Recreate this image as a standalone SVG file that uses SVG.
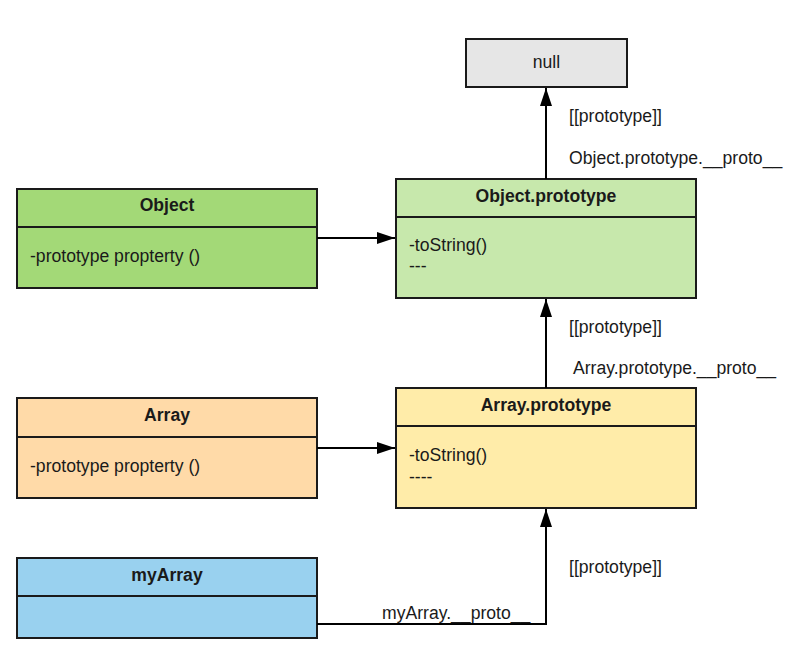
<svg xmlns="http://www.w3.org/2000/svg" width="801" height="661" viewBox="0 0 801 661">
<defs>
<marker id="arr" viewBox="0 0 18 12" refX="18" refY="6" markerWidth="18" markerHeight="12" markerUnits="userSpaceOnUse" orient="auto">
<path d="M0,0 L18,6 L0,12 z" fill="#000"/>
</marker>
<style>
.box{stroke:#1a1a1a;stroke-width:2}
.div{stroke:#1a1a1a;stroke-width:2}
text{font-family:"Liberation Sans",Arial,sans-serif;font-size:17.6px;fill:#1a1a1a}
.t{font-weight:bold;text-anchor:middle}
.c{text-anchor:middle}
.edge{fill:none;stroke:#000;stroke-width:2;marker-end:url(#arr)}
</style>
</defs>
<rect width="801" height="661" fill="#fff"/>
<g id="null">
<rect class="box" x="466" y="39" width="161" height="48" fill="#e6e6e6"/>
<text class="c" x="546.5" y="68">null</text>
</g>
<g id="object-prototype">
<rect class="box" x="396" y="179" width="300" height="119" fill="#c7e8ac"/>
<line class="div" x1="396" y1="217" x2="696" y2="217"/>
<text class="t" x="546" y="202">Object.prototype</text>
<text x="409" y="251">-toString()</text>
<text x="409" y="272">---</text>
</g>
<g id="object">
<rect class="box" x="17" y="189" width="300" height="99" fill="#a3d977"/>
<line class="div" x1="17" y1="227" x2="317" y2="227"/>
<text class="t" x="167" y="211">Object</text>
<text x="30" y="262">-prototype propterty ()</text>
</g>
<g id="array">
<rect class="box" x="17" y="398" width="300" height="100" fill="#ffdaa8"/>
<line class="div" x1="17" y1="437" x2="317" y2="437"/>
<text class="t" x="167" y="421">Array</text>
<text x="30" y="472">-prototype propterty ()</text>
</g>
<g id="array-prototype">
<rect class="box" x="396" y="388" width="300" height="120" fill="#ffeca9"/>
<line class="div" x1="396" y1="426" x2="696" y2="426"/>
<text class="t" x="546" y="411">Array.prototype</text>
<text x="409" y="461">-toString()</text>
<text x="409" y="483">----</text>
</g>
<g id="myarray">
<rect class="box" x="17" y="558" width="300" height="80" fill="#99d1ef"/>
<line class="div" x1="17" y1="596" x2="317" y2="596"/>
<text class="t" x="167" y="581">myArray</text>
</g>
<g id="connectors">
<path class="edge" d="M546,179 L546,88"/>
<path class="edge" d="M317,238 L395,238"/>
<path class="edge" d="M546,388 L546,299"/>
<path class="edge" d="M317,448 L395,448"/>
<path class="edge" d="M317,624 L546,624 L546,509"/>
<text x="569" y="122">[[prototype]]</text>
<text x="569" y="164">Object.prototype.__proto__</text>
<text x="569" y="333">[[prototype]]</text>
<text x="573" y="374">Array.prototype.__proto__</text>
<text x="569" y="573">[[prototype]]</text>
<text x="382" y="619">myArray.__proto__</text>
</g>
</svg>
